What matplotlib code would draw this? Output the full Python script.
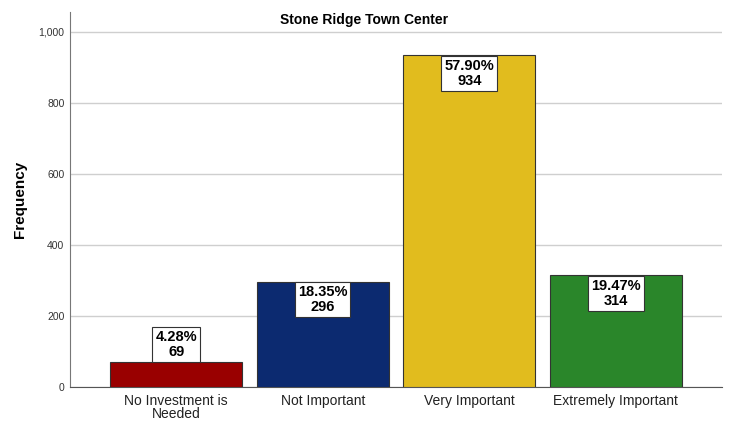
import matplotlib
matplotlib.use("Agg")
import matplotlib.pyplot as plt

categories = ["No Investment is\nNeeded", "Not Important", "Very Important", "Extremely Important"]
counts = [69, 296, 934, 314]
percents = ["4.28%", "18.35%", "57.90%", "19.47%"]
colors = ["#990000", "#0c2a70", "#e1bc1e", "#2a862a"]
yticks = [0, 200, 400, 600, 800, 1000]
ytick_labels = ["0", "200", "400", "600", "800", "1,000"]

plt.rcParams['font.family'] = ['Liberation Sans', 'DejaVu Sans']

fig = plt.figure(figsize=(7.29, 4.21), dpi=100)
ax = fig.add_axes([70/729, 34/421, 652/729, 375/421])

x = list(range(len(categories)))
ax.bar(x, counts, width=0.9, color=colors, edgecolor="#333333", linewidth=0.8, zorder=3)

ax.set_xlim(-0.725, 3.725)
ax.set_ylim(0, 1056)
ax.set_yticks(yticks)
ax.set_yticklabels(ytick_labels, fontsize=7.5, color="#333333")
ax.set_xticks(x)
ax.set_xticklabels(categories, fontsize=10, color="#222222", linespacing=0.95)
ax.tick_params(axis="x", length=0, pad=5)
ax.tick_params(axis="y", length=0, pad=4)
ax.yaxis.grid(True, color="#cfcfcf", linewidth=1.0, zorder=0)
ax.set_axisbelow(True)
for s in ["top", "right"]:
    ax.spines[s].set_visible(False)
ax.spines["left"].set_color("#777777")
ax.spines["bottom"].set_color("#555555")

ax.set_ylabel("Frequency", fontsize=11, fontweight="bold", labelpad=8)
fig.text(0.5, 1 - 13/421, "Stone Ridge Town Center",
         ha="center", va="top", fontsize=10, fontweight="bold")

for xi, c, p in zip(x, counts, percents):
    label = f"{p}\n{c}"
    if c < 150:
        ax.annotate(label, (xi, c), xytext=(0, 2.5), textcoords="offset points",
                    ha="center", va="bottom", fontsize=10.5, fontweight="bold",
                    linespacing=1.1, zorder=5,
                    bbox=dict(boxstyle="square,pad=0.2", fc="white", ec="#333333", lw=0.8))
    else:
        ax.annotate(label, (xi, c), xytext=(0, -2.5), textcoords="offset points",
                    ha="center", va="top", fontsize=10.5, fontweight="bold",
                    linespacing=1.1, zorder=5,
                    bbox=dict(boxstyle="square,pad=0.2", fc="white", ec="#333333", lw=0.8))

fig.savefig("out.png", dpi=100)
